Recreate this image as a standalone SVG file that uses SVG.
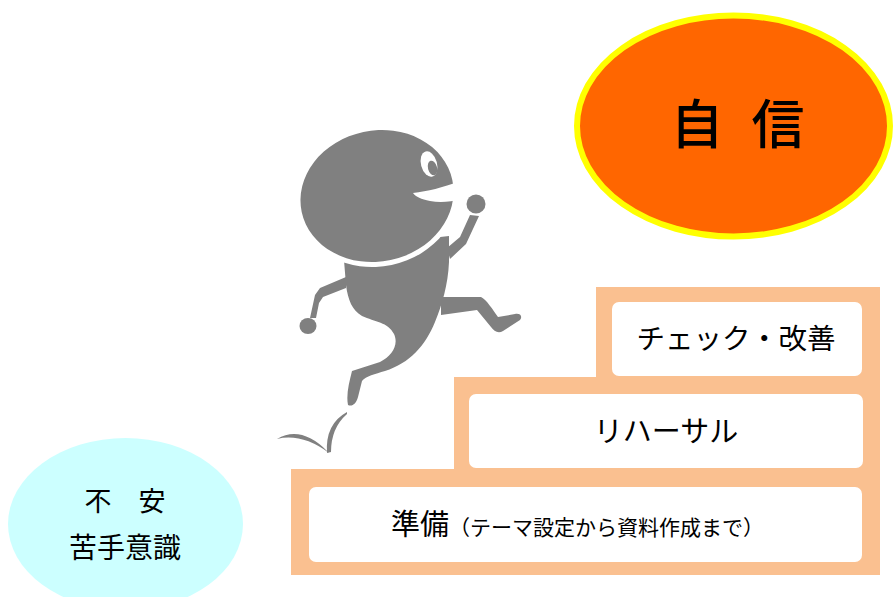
<svg xmlns="http://www.w3.org/2000/svg" width="893" height="597" viewBox="0 0 893 597">
  <style>
    .jp { font-family: "Noto Sans CJK JP", "Noto Sans CJK SC", sans-serif; fill: #000; }
    .box { fill: #ffffff; }
    .fig { fill: #808080; }
  </style>
  <rect x="0" y="0" width="893" height="597" fill="#ffffff"/>

  <!-- anxiety bubble -->
  <g id="anxiety">
    <ellipse cx="125.5" cy="524" rx="117.5" ry="86" fill="#ccffff"/>
    <text class="jp" x="125" y="511" font-size="27" text-anchor="middle">不　安</text>
    <text class="jp" x="125" y="558" font-size="28" text-anchor="middle">苦手意識</text>
  </g>

  <!-- confidence bubble -->
  <g id="confidence">
    <ellipse cx="733.5" cy="126" rx="156.5" ry="110.5" fill="#ff6600" stroke="#ffff00" stroke-width="6"/>
    <text class="jp" x="697" y="144" font-size="53" font-weight="500" text-anchor="middle">自</text>
    <text class="jp" x="778" y="144" font-size="53" font-weight="500" text-anchor="middle">信</text>
  </g>

  <!-- staircase -->
  <g id="stairs">
    <path d="M291,575 L291,469 L454,469 L454,377 L596,377 L596,287 L880,287 L880,575 Z" fill="#fac090"/>
  </g>
  <g id="step-check">
    <rect class="box" x="612" y="302" width="250" height="74" rx="7"/>
    <text class="jp" x="736" y="349" font-size="28.5" text-anchor="middle">チェック・改善</text>
  </g>
  <g id="step-rehearsal">
    <rect class="box" x="469" y="394" width="394" height="74" rx="7"/>
    <text class="jp" x="666" y="442" font-size="29" text-anchor="middle">リハーサル</text>
  </g>
  <g id="step-prepare">
    <rect class="box" x="309" y="487" width="553" height="75" rx="7"/>
    <text class="jp" x="391" y="535" font-size="29">準備<tspan font-size="21">（テーマ設定から資料作成まで）</tspan></text>
  </g>

  <!-- running figure -->
  <g id="runner">
    <!-- body with trailing leg -->
    <path class="fig" d="M343,248 L346,285 C348,300 352,310 362,316 C375,322 388,322 394,334 C399,345 392,356 380,362 L352,371 C349,383 346,395 348,405 C352,407 356,404 358,397 L362,381 C366,376 375,374 385,371 C410,363 425,346 435,322 C442,305 448,285 449,262 L449,236 Z"/>
    <!-- front leg and foot -->
    <path class="fig" d="M441,297 L481,297 C486,299 493,310 498,317 L515,314 C520,313 523,316 520,320 L503,331 C498,334 494,331 491,327 L477,310 L441,315 Z"/>
    <!-- raised arm and fist -->
    <path class="fig" d="M447,248 L460,237 L470,215 L479,216 L466,244 L450,259 Z"/>
    <ellipse class="fig" cx="476" cy="204" rx="9.5" ry="9.5"/>
    <!-- back arm and fist -->
    <path class="fig" d="M346,277 L320,288 L315,295 L310,318 L316,318 L319,303 L323,297 L346,288 Z"/>
    <ellipse class="fig" cx="308" cy="326" rx="8.5" ry="8"/>
    <!-- gap between head and body -->
    <ellipse cx="377" cy="196" rx="82" ry="70.5" fill="#ffffff" transform="rotate(-12 377 196)"/>
    <!-- head -->
    <ellipse class="fig" cx="377" cy="196" rx="77" ry="65.5" transform="rotate(-12 377 196)"/>
    <!-- mouth -->
    <path d="M413,193 C428,191 442,188 460,181 L462,199 C450,202 440,203 430,201 C421,199 416,197 413,193 Z" fill="#ffffff"/>
    <!-- eye -->
    <ellipse cx="429" cy="164" rx="8" ry="13" fill="#ffffff" transform="rotate(-15 429 164)"/>
    <ellipse class="fig" cx="432.5" cy="168" rx="4.5" ry="7.5" transform="rotate(-15 432.5 168)"/>
    <!-- take-off marks -->
    <path class="fig" d="M277,439 Q301,425 327,451 L329,453 Q302,433 277,439 Z"/>
    <path class="fig" d="M327,453 Q325,424 347,412 L347,414 Q331,428 331,452 Z"/>
  </g>
</svg>
